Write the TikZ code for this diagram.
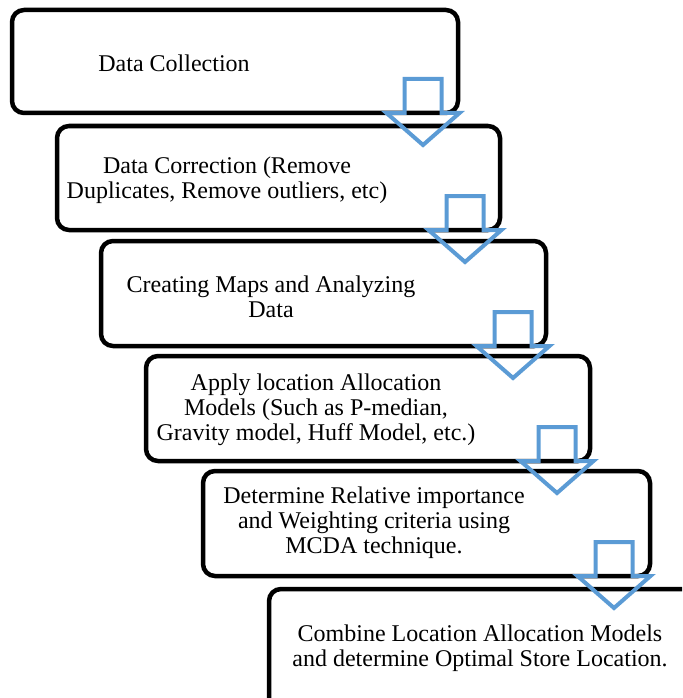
\documentclass[tikz,border=0pt]{standalone}
\usepackage{fontspec}
\setmainfont{Liberation Serif}
\begin{document}
\begin{tikzpicture}[x=1pt,y=-1pt,
  stepbox/.style={draw=black, line width=4.5pt, rounded corners=12pt, outer sep=0pt,
    minimum width=#1, minimum height=105pt, inner sep=0pt},
  steptext/.style={align=center, inner sep=0pt, font=\fontsize{24}{24.8}\selectfont},
  arrowline/.style={draw=arrowblue, line width=4pt, line join=miter},
  dnarrow/.pic={\draw[arrowline] (-18.5,-34) -- (18.5,-34) -- (18.5,0) -- (36.5,0) -- (0,32) -- (-36.5,0) -- (-18.5,0) -- cycle;}]
\definecolor{arrowblue}{RGB}{91,155,213}
\useasboundingbox (0,0) rectangle (682,698);
\clip (0,0) rectangle (682,698);
\node[stepbox=446pt, minimum height=103pt] (b1) at (235,61.5) {};
\node[stepbox=443pt, minimum height=104pt] (b2) at (278.5,178) {};
\node[stepbox=445pt] (b3) at (323.5,293.5) {};
\node[stepbox=444pt] (b4) at (368,408.5) {};
\node[stepbox=447pt] (b5) at (426.5,523.5) {};
\node[stepbox=447pt, minimum height=121pt] (b6) at (492.5,649.5) {};
\node[steptext] (t1) at (174,63) {Data Collection};
\node[steptext] (t2) at (227,180) {Data Correction (Remove\\Duplicates, Remove outliers, etc)};
\node[steptext] (t3) at (271,296.5) {Creating Maps and Analyzing\\Data};
\node[steptext] (t4) at (316,410) {Apply location Allocation\\Models (Such as P-median,\\Gravity model, Huff Model, etc.)};
\node[steptext] (t5) at (374,523) {Determine Relative importance\\and Weighting criteria using\\MCDA technique.};
\node[steptext] (t6) at (480,648.5) {Combine Location Allocation Models\\and determine Optimal Store Location.};
\pic at ([xshift=-35pt]b1.south east) {dnarrow};
\pic at ([xshift=-35pt]b2.south east) {dnarrow};
\pic at ([xshift=-33pt]b3.south east) {dnarrow};
\pic at ([xshift=-33pt]b4.south east) {dnarrow};
\pic at ([xshift=-36pt]b5.south east) {dnarrow};
\end{tikzpicture}
\end{document}
